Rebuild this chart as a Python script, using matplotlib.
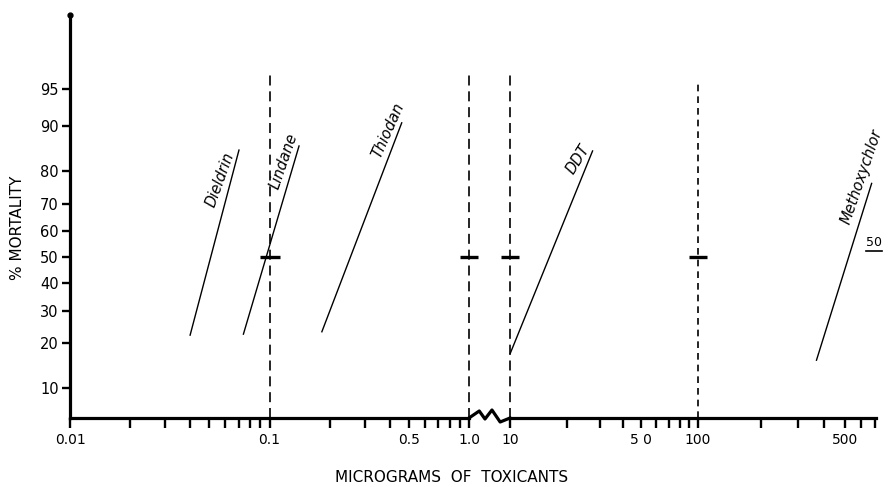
import math
import numpy as np
import matplotlib
matplotlib.use("Agg")
import matplotlib.pyplot as plt
import matplotlib.transforms as mtransforms
from matplotlib.lines import Line2D
from matplotlib.ticker import FixedLocator, FixedFormatter

# ---------------- data ----------------
toxicants = ["Dieldrin", "Lindane", "Thiodan", "DDT", "Methoxychlor"]
dose_low = [0.040, 0.074, 0.183, 10.0, 367.0]      # micrograms at lower end of line
dose_high = [0.0703, 0.1406, 0.460, 27.5, 672.0]   # micrograms at upper end
mort_low = [22.2, 22.5, 23.2, 17.1, 15.6]          # % mortality at lower end
mort_high = [85.3, 86.2, 90.6, 85.1, 76.5]         # % mortality at upper end
panel = [1, 1, 1, 2, 2]                            # which axis segment

ref_doses = [0.1, 1.0, 10.0, 100.0]                # dashed reference lines
ref_tops = [96.3, 96.5, 96.3, 95.7]
ref_panel = [1, 1, 2, 2]
lc50 = 50.0

y_ticks = [10, 20, 30, 40, 50, 60, 70, 80, 90, 95]
x1_ticks = [0.01, 0.02, 0.03, 0.04, 0.05, 0.06, 0.07, 0.08, 0.09,
            0.1, 0.2, 0.3, 0.4, 0.5, 0.6, 0.7, 0.8, 0.9, 1.0]
x1_labels = {0.01: "0.01", 0.1: "0.1", 0.5: "0.5", 1.0: "1.0"}
x2_ticks = [10, 20, 30, 40, 50, 60, 70, 80, 90, 100, 200, 300, 400, 500, 600, 700]
x2_labels = {10: "10", 50: "5 0", 100: "100", 500: "500"}

# label placement (dose, % mortality, rotation)
label_pos = [(0.0565, 77.5, 70), (0.118, 82.7, 71), (0.393, 89.3, 66),
             (23.0, 83.2, 58), (604.0, 78.6, 71)]


# ---------------- probit scale ----------------
def _ppf(p):
    p = np.asarray(p, dtype=float)
    shape = p.shape
    p = np.clip(np.atleast_1d(p).ravel(), 1e-9, 1 - 1e-9)
    a = [-3.969683028665376e+01, 2.209460984245205e+02, -2.759285104469687e+02,
         1.383577518672690e+02, -3.066479806614716e+01, 2.506628277459239e+00]
    b = [-5.447609879822406e+01, 1.615858368580409e+02, -1.556989798598866e+02,
         6.680131188771972e+01, -1.328068155288572e+01]
    c = [-7.784894002430293e-03, -3.223964580411365e-01, -2.400758277161838e+00,
         -2.549671503286560e+00, 4.374664141464968e+00, 2.938163982698783e+00]
    d = [7.784695709041462e-03, 3.224671290700398e-01, 2.445134137142996e+00,
         3.754408661907416e+00]
    plow = 0.02425
    out = np.empty_like(p)
    lo = p < plow
    hi = p > 1 - plow
    mid = ~(lo | hi)
    q = np.sqrt(-2 * np.log(p[lo]))
    out[lo] = (((((c[0]*q+c[1])*q+c[2])*q+c[3])*q+c[4])*q+c[5]) / \
              ((((d[0]*q+d[1])*q+d[2])*q+d[3])*q+1)
    q = np.sqrt(-2 * np.log(1 - p[hi]))
    out[hi] = -(((((c[0]*q+c[1])*q+c[2])*q+c[3])*q+c[4])*q+c[5]) / \
              ((((d[0]*q+d[1])*q+d[2])*q+d[3])*q+1)
    q = p[mid] - 0.5
    r = q * q
    out[mid] = (((((a[0]*r+a[1])*r+a[2])*r+a[3])*r+a[4])*r+a[5])*q / \
               (((((b[0]*r+b[1])*r+b[2])*r+b[3])*r+b[4])*r+1)
    return out.reshape(shape)


_erf = np.vectorize(math.erf)


def probit_fwd(y):
    return _ppf(np.asarray(y, dtype=float) / 100.0)


def probit_inv(z):
    z = np.asarray(z, dtype=float)
    return 50.0 * (1.0 + _erf(z / math.sqrt(2.0)))


# hand-drawn second segment: decade above 100 drawn slightly longer
K = 210.0 / 188.0


def seg2_fwd(x):
    l = np.log10(np.maximum(np.asarray(x, dtype=float), 1e-300))
    return np.where(l <= 2, l, 2 + (l - 2) * K)


def seg2_inv(u):
    u = np.asarray(u, dtype=float)
    return np.where(u <= 2, 10 ** u, 10 ** (2 + (u - 2) / K))


# ---------------- figure ----------------
plt.rcParams['font.family'] = ['DejaVu Sans']
W, H = 890, 487
fig = plt.figure(figsize=(W / 100, H / 100), dpi=100)
fig.patch.set_facecolor("white")

y0, y1 = 69, 472
ax1 = fig.add_axes([70 / W, y0 / H, 399 / W, (y1 - y0) / H])
ax2 = fig.add_axes([510 / W, y0 / H, 366 / W, (y1 - y0) / H])

for ax in (ax1, ax2):
    ax.set_facecolor("none")
    ax.set_yscale("function", functions=(probit_fwd, probit_inv))
    ax.set_ylim(5.73, 99.12)
    ax.spines["top"].set_visible(False)
    ax.spines["right"].set_visible(False)
    ax.spines["bottom"].set_linewidth(2.3)
    ax.spines["left"].set_linewidth(2.3)
    ax.tick_params(axis="x", direction="out", length=7, width=1.7, pad=4,
                   labelsize=10)
    ax.minorticks_off()

ax1.set_xscale("log")
ax1.set_xlim(0.01, 1.0)
ax2.set_xscale("function", functions=(seg2_fwd, seg2_inv))
ax2.set_xlim(10, 705)
ax2.spines["left"].set_visible(False)
ax2.tick_params(axis="y", left=False, labelleft=False)

ax1.yaxis.set_major_locator(FixedLocator(y_ticks))
ax1.yaxis.set_major_formatter(FixedFormatter([str(v) for v in y_ticks]))
ax1.yaxis.set_minor_locator(FixedLocator([]))
ax1.tick_params(axis="y", direction="out", length=6, width=1.7, pad=2,
                labelsize=10.5)

ax1.xaxis.set_major_locator(FixedLocator(x1_ticks))
ax1.xaxis.set_major_formatter(FixedFormatter([x1_labels.get(v, "") for v in x1_ticks]))
ax1.xaxis.set_minor_locator(FixedLocator([]))
ax2.xaxis.set_major_locator(FixedLocator(x2_ticks))
ax2.xaxis.set_major_formatter(FixedFormatter([x2_labels.get(v, "") for v in x2_ticks]))
ax2.xaxis.set_minor_locator(FixedLocator([]))
ax2.yaxis.set_minor_locator(FixedLocator([]))

# dose-response lines
for name, xl, xh, yl, yh, pn, (lx, ly, rot) in zip(
        toxicants, dose_low, dose_high, mort_low, mort_high, panel, label_pos):
    ax = ax1 if pn == 1 else ax2
    ax.plot([xl, xh], [yl, yh], color="black", lw=1.0, clip_on=False)
    ax.text(lx, ly, name, rotation=rot, rotation_mode="anchor",
            ha="center", va="center", fontsize=10.5, style="italic")

# dashed reference lines with LC50 marks
for xd, top, pn in zip(ref_doses, ref_tops, ref_panel):
    ax = ax1 if pn == 1 else ax2
    dash = (0, (6, 3.5)) if xd != 100.0 else (0, (4, 3))
    ax.plot([xd, xd], [5.73, top], color="black", lw=1.2, linestyle=dash,
            clip_on=False)
    ax.plot([xd], [lc50], marker="_", markersize=15 if xd == 0.1 else 13,
            markeredgewidth=2.4, color="black", clip_on=False)

# "50" with underline at right edge
bt = mtransforms.blended_transform_factory(ax2.transAxes, ax2.transData)
ax2.text(0.995, 55.5, "50", transform=bt, ha="center", va="center",
         fontsize=9, clip_on=False)
ax2.plot([0.973, 1.016], [52.3, 52.3], transform=bt, color="black", lw=1.2,
         clip_on=False)

# dot at top of y axis
ax1.plot([0], [1], marker="o", ms=3.5, color="black",
         transform=ax1.transAxes, clip_on=False)

# axis break zig-zag between the two segments
p1 = ax1.get_position()
p2 = ax2.get_position()
gap = p2.x0 - p1.x1
zx = [0, 0.25, 0.39, 0.56, 0.76, 1.0]
zy = [0, 7, -1, 8, -4, 0]
fig.add_artist(Line2D([p1.x1 + gap * f for f in zx],
                      [p1.y0 + d / H for d in zy],
                      transform=fig.transFigure, color="black", lw=2.3))

# axis titles
fig.text(18 / W, 1 - 228 / H, "% MORTALITY", rotation=90, ha="center",
         va="center", fontsize=11)
fig.text(452 / W, 1 - 478 / H, "MICROGRAMS  OF  TOXICANTS", ha="center",
         va="center", fontsize=11)

fig.savefig("out.png", dpi=100)
